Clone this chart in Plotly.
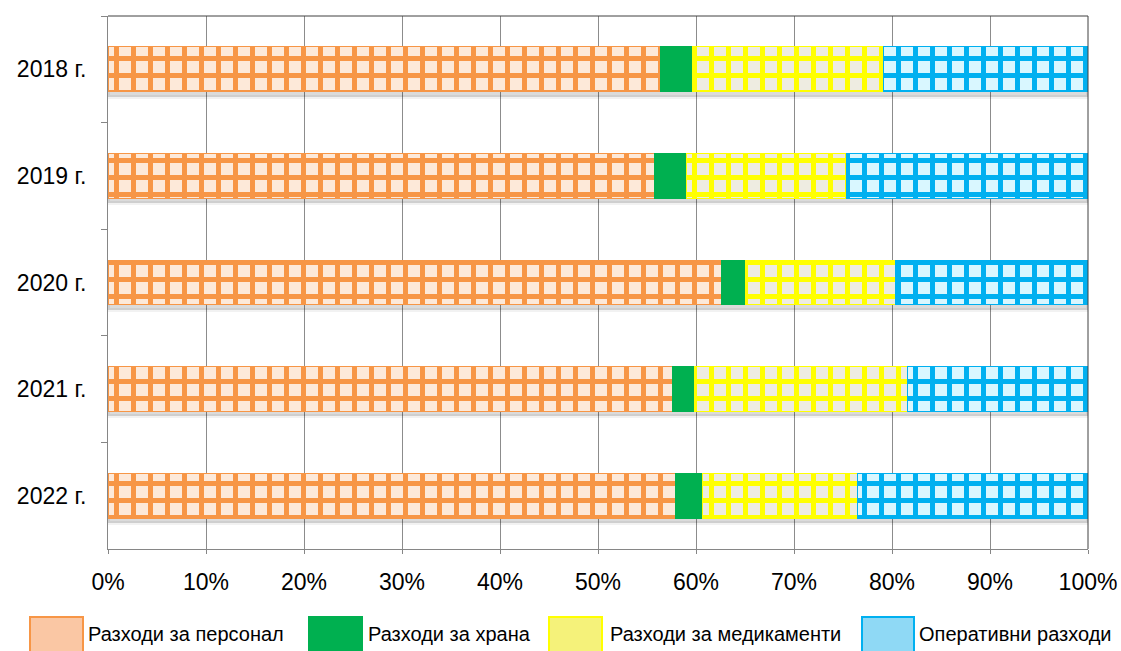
import plotly.graph_objects as go

years = ["2018 г.", "2019 г.", "2020 г.", "2021 г.", "2022 г."]
series_names = ["Разходи за персонал", "Разходи за храна", "Разходи за медикаменти", "Оперативни разходи"]
personnel = [56.4, 55.8, 62.6, 57.6, 57.9]
food = [3.2, 3.2, 2.5, 2.2, 2.8]
medicine = [19.5, 16.4, 15.3, 21.8, 15.8]
operating = [20.9, 24.6, 19.6, 18.4, 23.5]
x_ticks = [0, 10, 20, 30, 40, 50, 60, 70, 80, 90, 100]

values = [personnel, food, medicine, operating]
totals = [sum(v) for v in zip(*values)]
fg_colors = ["#F79646", "#00B050", "#FFFF00", "#00B0F0"]
bg_colors = ["#FDE9D9", "#00B050", "#EEECE1", "#D9F7FF"]
patterns = ["+", "", "+", "+"]
legend_fill = ["#FAC7A4", "#00B050", "#F5F27A", "#8FD9F5"]

W, H = 1121, 651
L, R, T, B = 108, 1088, 16, 549
n_cat = len(years)
cat_px = (B - T) / n_cat
shadow_shift = 5 / cat_px

def px(x):
    return (x - L) / (R - L)

def py(y):
    return (B - y) / (B - T)

FONT = "Liberation Sans, Arial, sans-serif"

fig = go.Figure()
# soft drop shadow under each bar (drawn on the base axis, beneath the bars)
fig.add_trace(go.Bar(
    y=years, x=totals, orientation="h", yaxis="y", showlegend=False, hoverinfo="skip",
    marker=dict(color="rgba(0,0,0,0.14)", line=dict(color="rgba(0,0,0,0.05)", width=4)),
))
for name, vals, fg, bg, pat in zip(series_names, values, fg_colors, bg_colors, patterns):
    marker = dict(color=fg, line=dict(color=fg, width=1))
    if pat:
        marker["pattern"] = dict(shape=pat, fgcolor=fg, bgcolor=bg, size=17, solidity=0.5, fillmode="replace")
    fig.add_trace(go.Bar(
        y=years, x=vals, name=name, orientation="h", marker=marker, showlegend=False,
        yaxis="y2", hoverinfo="x+y+name",
    ))

shapes = [
    dict(type="line", xref="paper", yref="paper", x0=0, x1=1, y0=1, y1=1, line=dict(color="#404040", width=1)),
    dict(type="line", xref="paper", yref="paper", x0=1, x1=1, y0=0, y1=1, line=dict(color="#404040", width=1)),
]
annotations = []
legend_boxes = [(30, 83), (309, 362), (549, 602), (862, 914)]
text_x = [89, 369, 611, 920]
for (x0, x1), tx, name, fc, lc in zip(legend_boxes, text_x, series_names, legend_fill, fg_colors):
    shapes.append(dict(type="rect", xref="paper", yref="paper", x0=px(x0), x1=px(x1), y0=py(652), y1=py(617),
                       fillcolor=fc, line=dict(color=lc, width=2), layer="above"))
    annotations.append(dict(xref="paper", yref="paper", x=px(tx), y=py(634), text=name, showarrow=False,
                            xanchor="left", yanchor="middle", xshift=-3,
                            font=dict(size=20, color="#000000", family=FONT)))

base_range = [n_cat - 0.5, -0.5]
fig.update_layout(
    width=W, height=H,
    margin=dict(l=L, r=W - R, t=T, b=H - B, autoexpand=False),
    barmode="stack", bargap=0.58,
    plot_bgcolor="white", paper_bgcolor="white",
    font=dict(family=FONT, size=23, color="#000000"),
    showlegend=False,
    shapes=shapes, annotations=annotations,
    xaxis=dict(range=[0, 100], tickvals=x_ticks, ticktext=[f"{v}%" for v in x_ticks],
               showgrid=True, gridcolor="#8C8C8C", gridwidth=1, zeroline=False,
               showline=True, linecolor="#868686", linewidth=1,
               ticks="outside", ticklen=4, tickcolor="#868686", ticklabelstandoff=8),
    yaxis=dict(categoryorder="array", categoryarray=years,
               range=[base_range[0] - shadow_shift, base_range[1] - shadow_shift],
               visible=False, showgrid=False),
    yaxis2=dict(categoryorder="array", categoryarray=years, range=base_range,
                overlaying="y", side="left",
                showgrid=False, showline=True, linecolor="#868686", linewidth=1,
                ticks="outside", ticklen=6, tickcolor="#868686", tickson="boundaries",
                ticklabelstandoff=16),
)

fig.write_html("out.html", config={"displayModeBar": False},
               post_script="document.body.style.margin='0';document.body.style.overflow='hidden';")
